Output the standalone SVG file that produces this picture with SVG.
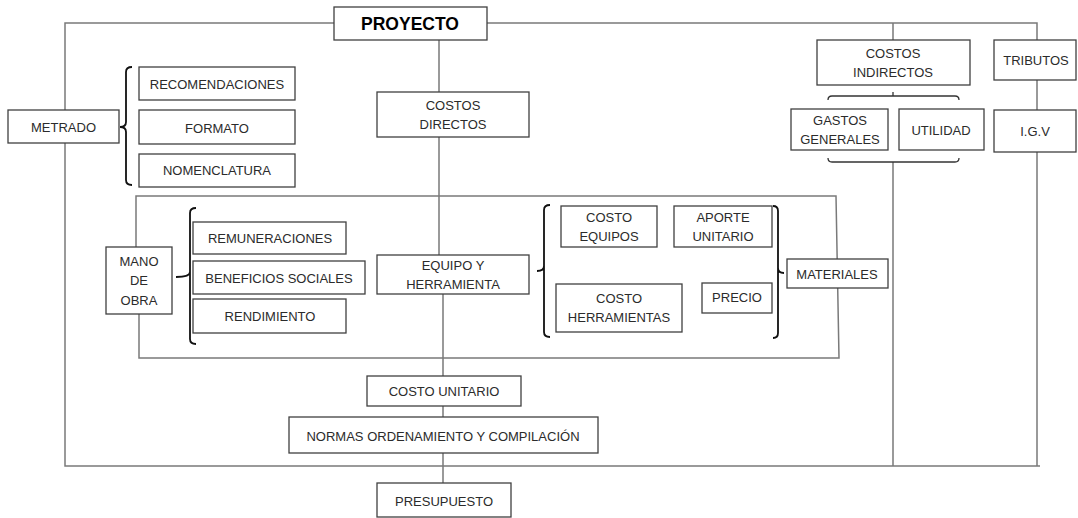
<svg xmlns="http://www.w3.org/2000/svg" width="1078" height="518" viewBox="0 0 1078 518">
<style>
.bx{fill:#fff;stroke:#404040;stroke-width:1.3}
.t{font-family:"Liberation Sans",Arial,sans-serif;font-size:13px;fill:#2b2b2b;text-anchor:middle}
.tb{font-family:"Liberation Sans",Arial,sans-serif;font-size:17.5px;font-weight:bold;fill:#000;text-anchor:middle}
.ln{fill:none;stroke:#7a7a7a;stroke-width:1.5}
.br{fill:none;stroke:#111;stroke-width:1.8}
</style>
<rect width="1078" height="518" fill="#fff"/>
<g id="connectors">
<path class="ln" d="M334,23 H65 V466 H1040 M487,23 H1037 V466"/>
<path class="ln" d="M893,23 V40 M893,162 V466"/>
<path class="ln" d="M439,40 V92 M439,137 V255 M443,294 V376 M443,406 V417 M443,453 V483"/>
<path class="ln" d="M136,247 V196 H836 L839,358 H139 V314"/>
<path class="br" d="M132,67 Q126,67 126,72 V122 Q126,127 120,127 Q126,127 126,132 V180 Q126,185 132,185"/>
<path class="br" d="M196,208 Q190,208 190,213 V272 Q190,277 176,277 M190,272 Q190,277 190,282 V339 Q190,344 196,344"/>
<path class="br" d="M550,205 Q544,205 544,210 V266 Q544,271 537,271 M544,266 Q544,271 544,276 V332 Q544,337 550,337"/>
<path class="br" d="M773,206 Q778,206 778,211 V268 Q778,273 784,273 M778,268 Q778,273 778,278 V333 Q778,338 773,338"/>
<path class="br" style="stroke-width:1.3;stroke:#333" d="M828,100 Q828,96 832,96 H955 Q959,96 959,100 M893,96 V92 M828,158 Q828,162 832,162 H955 Q959,162 959,158"/>
</g>
<g id="proyecto"><rect class="bx" x="334" y="7" width="153" height="33"/><text class="tb" x="410" y="30">PROYECTO</text></g>
<g id="metrado"><rect class="bx" x="8" y="110" width="111" height="33"/><text class="t" x="63.5" y="132">METRADO</text></g>
<g id="recomendaciones"><rect class="bx" x="139" y="67" width="156" height="33"/><text class="t" x="217" y="89">RECOMENDACIONES</text></g>
<g id="formato"><rect class="bx" x="139" y="110" width="156" height="34"/><text class="t" x="217" y="133">FORMATO</text></g>
<g id="nomenclatura"><rect class="bx" x="139" y="154" width="156" height="33"/><text class="t" x="217" y="175">NOMENCLATURA</text></g>
<g id="costos-directos"><rect class="bx" x="377" y="92" width="152" height="45"/><text class="t" x="453" y="110">COSTOS</text><text class="t" x="453" y="129">DIRECTOS</text></g>
<g id="costos-indirectos"><rect class="bx" x="817" y="40" width="153" height="45"/><text class="t" x="893" y="58">COSTOS</text><text class="t" x="893" y="77">INDIRECTOS</text></g>
<g id="tributos"><rect class="bx" x="994" y="40" width="82" height="40"/><text class="t" x="1036" y="65">TRIBUTOS</text></g>
<g id="gastos-generales"><rect class="bx" x="791" y="109" width="97" height="41"/><text class="t" x="840" y="125">GASTOS</text><text class="t" x="840" y="144">GENERALES</text></g>
<g id="utilidad"><rect class="bx" x="899" y="109" width="85" height="41"/><text class="t" x="941" y="135">UTILIDAD</text></g>
<g id="igv"><rect class="bx" x="994" y="110" width="82" height="42"/><text class="t" x="1035" y="136">I.G.V</text></g>
<g id="mano-de-obra"><rect class="bx" x="106" y="247" width="66" height="67"/><text class="t" x="139" y="266">MANO</text><text class="t" x="139" y="285">DE</text><text class="t" x="139" y="305">OBRA</text></g>
<g id="remuneraciones"><rect class="bx" x="193" y="222" width="153" height="32"/><text class="t" x="270" y="243">REMUNERACIONES</text></g>
<g id="beneficios-sociales"><rect class="bx" x="193" y="261" width="172" height="33"/><text class="t" x="279" y="283">BENEFICIOS SOCIALES</text></g>
<g id="rendimiento"><rect class="bx" x="193" y="299" width="153" height="34"/><text class="t" x="270" y="321">RENDIMIENTO</text></g>
<g id="equipo-herramienta"><rect class="bx" x="377" y="255" width="152" height="39"/><text class="t" x="453" y="270">EQUIPO Y</text><text class="t" x="453" y="289">HERRAMIENTA</text></g>
<g id="costo-equipos"><rect class="bx" x="561" y="206" width="96" height="41"/><text class="t" x="609" y="222">COSTO</text><text class="t" x="609" y="241">EQUIPOS</text></g>
<g id="aporte-unitario"><rect class="bx" x="674" y="206" width="98" height="41"/><text class="t" x="723" y="222">APORTE</text><text class="t" x="723" y="241">UNITARIO</text></g>
<g id="costo-herramientas"><rect class="bx" x="556" y="284" width="126" height="48"/><text class="t" x="619" y="303">COSTO</text><text class="t" x="619" y="322">HERRAMIENTAS</text></g>
<g id="precio"><rect class="bx" x="702" y="283" width="70" height="30"/><text class="t" x="737" y="302">PRECIO</text></g>
<g id="materiales"><rect class="bx" x="787" y="259" width="101" height="29"/><text class="t" x="837" y="279">MATERIALES</text></g>
<g id="costo-unitario"><rect class="bx" x="367" y="376" width="154" height="30"/><text class="t" x="444" y="396">COSTO UNITARIO</text></g>
<g id="normas"><rect class="bx" x="289" y="417" width="309" height="36"/><text class="t" x="443" y="441">NORMAS ORDENAMIENTO Y COMPILACIÓN</text></g>
<g id="presupuesto"><rect class="bx" x="377" y="483" width="134" height="34"/><text class="t" x="444" y="506">PRESUPUESTO</text></g>
</svg>
